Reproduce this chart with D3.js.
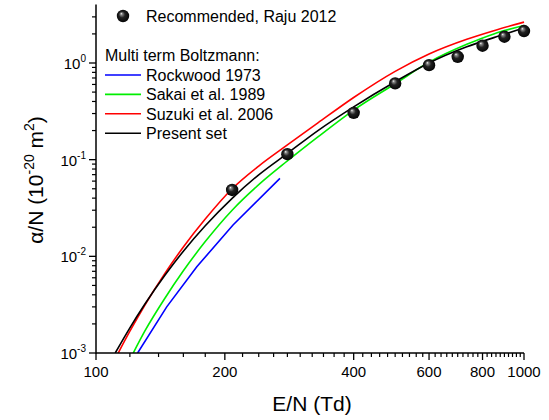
<!DOCTYPE html>
<html><head><meta charset="utf-8">
<script src="https://cdn.jsdelivr.net/npm/d3@7"></script>
<style>body{margin:0;background:#fff}svg{display:block;font-family:"Liberation Sans",Arial,sans-serif}</style>
</head><body><svg id="c" width="549" height="420"></svg>
<script>
// Data
const rajuE = [208, 280, 400, 500, 600, 700, 800, 900, 1000];
const rajuA = [0.0486, 0.114, 0.305, 0.615, 0.95, 1.16, 1.51, 1.87, 2.14];

const rockE = [125.1, 146.3, 172, 209, 269];
const rockA = [0.001, 0.003, 0.0078, 0.0211, 0.0641];

const sakaiE = [122.2, 130, 145, 160, 180, 208, 240, 280, 330, 400, 500, 600, 735, 850, 1000];
const sakaiA = [0.001, 0.00168, 0.00371, 0.00709, 0.0142, 0.030, 0.0551, 0.097, 0.172, 0.326, 0.61, 1.02, 1.56, 2.0, 2.44];

const suzukiE = [112.7, 120, 130, 145, 160, 180, 208, 240, 280, 330, 400, 500, 600, 735, 850, 1000];
const suzukiA = [0.001, 0.00168, 0.00312, 0.0067, 0.0125, 0.0243, 0.050, 0.0859, 0.142, 0.24, 0.44, 0.82, 1.24, 1.76, 2.16, 2.65];

const presentE = [110.9, 120, 130, 145, 160, 180, 208, 240, 280, 330, 400, 500, 600, 735, 850, 1000];
const presentA = [0.001, 0.00182, 0.00319, 0.0064, 0.0113, 0.0207, 0.0398, 0.0697, 0.116, 0.20, 0.352, 0.64, 1.0, 1.47, 1.83, 2.30];

const xTickLabels = [100, 200, 400, 600, 800, 1000];
const yTickExps = [-3, -2, -1, 0];

const seriesNames = ["Rockwood 1973", "Sakai et al. 1989", "Suzuki et al. 2006", "Present set"];
const seriesColors = ["#0000ff", "#00ee00", "#ff0000", "#000000"];

const svg = d3.select("#c");
const x = d3.scaleLog().domain([100, 1000]).range([96, 524]);
const y = d3.scaleLog().domain([0.001, Math.pow(10, 0.6)]).range([353, 5]);

const defs = svg.append("defs");
defs.append("clipPath").attr("id", "clip").append("rect")
  .attr("x", 96).attr("y", 0).attr("width", 460).attr("height", 353);
const g = defs.append("radialGradient").attr("id", "ball")
  .attr("cx", "50%").attr("cy", "50%").attr("r", "55%").attr("fx", "35%").attr("fy", "30%");
g.append("stop").attr("offset", "0%").attr("stop-color", "#ffffff");
g.append("stop").attr("offset", "15%").attr("stop-color", "#8a8a8a");
g.append("stop").attr("offset", "45%").attr("stop-color", "#222");
g.append("stop").attr("offset", "100%").attr("stop-color", "#000");

// Curves
const line = d3.line().x(d => x(d[0])).y(d => y(d[1])).curve(d3.curveMonotoneX);
const rockLine = d3.line().x(d => x(d[0])).y(d => y(d[1]));
const series = [
  [rockE, rockA, rockLine],
  [sakaiE, sakaiA, line],
  [suzukiE, suzukiA, line],
  [presentE, presentA, line]
];
const plot = svg.append("g").attr("clip-path", "url(#clip)");
series.forEach((s, i) => {
  const pts = s[0].map((e, j) => [e, s[1][j]]);
  plot.append("path").attr("d", s[2](pts)).attr("fill", "none")
    .attr("stroke", seriesColors[i]).attr("stroke-width", 1.6);
});

// Points
svg.append("g").selectAll("circle").data(rajuE.map((e, j) => [e, rajuA[j]])).join("circle")
  .attr("cx", d => x(d[0])).attr("cy", d => y(d[1])).attr("r", 6.2)
  .attr("fill", "url(#ball)");

// X axis
const xMinor = d3.range(120, 1000, 20).filter(v => !xTickLabels.includes(v));
const xa = svg.append("g").attr("transform", "translate(0,353)");
xa.append("line").attr("x1", 96).attr("x2", 524).attr("stroke", "#000").attr("stroke-width", 1.5);
xa.selectAll(".mn").data(xMinor).join("line").attr("x1", d => x(d)).attr("x2", d => x(d))
  .attr("y1", 0).attr("y2", 4).attr("stroke", "#000").attr("stroke-width", 1.2);
xa.selectAll(".mj").data(xTickLabels).join("line").attr("x1", d => x(d)).attr("x2", d => x(d))
  .attr("y1", 0).attr("y2", 7).attr("stroke", "#000").attr("stroke-width", 1.3);
xa.selectAll("text").data(xTickLabels).join("text").attr("x", d => x(d)).attr("y", 24)
  .attr("text-anchor", "middle").attr("font-size", 15).text(d => d);
svg.append("text").attr("x", 312).attr("y", 411).attr("text-anchor", "middle")
  .attr("font-size", 21).text("E/N (Td)");

// Y axis
const ya = svg.append("g");
ya.append("line").attr("x1", 96).attr("x2", 96).attr("y1", 4.5).attr("y2", 353.7)
  .attr("stroke", "#000").attr("stroke-width", 1.5);
const yMinor = [];
for (let e = -3; e <= 0; e++) for (let m = 2; m <= 9; m++) {
  const v = m * Math.pow(10, e);
  if (v <= Math.pow(10, 0.6)) yMinor.push(v);
}
ya.selectAll(".mn").data(yMinor).join("line").attr("x1", 92).attr("x2", 96)
  .attr("y1", d => y(d)).attr("y2", d => y(d)).attr("stroke", "#000").attr("stroke-width", 1.2);
ya.selectAll(".mj").data(yTickExps).join("line").attr("x1", 89).attr("x2", 96)
  .attr("y1", d => y(Math.pow(10, d))).attr("y2", d => y(Math.pow(10, d)))
  .attr("stroke", "#000").attr("stroke-width", 1.3);
yTickExps.forEach(e => {
  const t = ya.append("text").attr("x", 86).attr("y", y(Math.pow(10, e)) + 6)
    .attr("text-anchor", "end").attr("font-size", 15);
  t.append("tspan").text("10");
  t.append("tspan").attr("dy", -7).attr("font-size", 10).text(String(e));
});
const yt = svg.append("text").attr("transform", "translate(43,180) rotate(-90)")
  .attr("text-anchor", "middle").attr("font-size", 21);
yt.append("tspan").text("\u03b1/N (10");
yt.append("tspan").attr("dy", -9).attr("font-size", 14).text("-20");
yt.append("tspan").attr("dy", 9).text(" m");
yt.append("tspan").attr("dy", -9).attr("font-size", 14).text("2");
yt.append("tspan").attr("dy", 9).text(")");

// Legend
const lg = svg.append("g");
lg.append("circle").attr("cx", 123).attr("cy", 16).attr("r", 6.2).attr("fill", "url(#ball)");
lg.append("text").attr("x", 146).attr("y", 22).attr("font-size", 16).text("Recommended, Raju 2012");
lg.append("text").attr("x", 105).attr("y", 61).attr("font-size", 16).text("Multi term Boltzmann:");
seriesNames.forEach((n, i) => {
  const yy = 75 + i * 19.4;
  lg.append("line").attr("x1", 105).attr("x2", 141).attr("y1", yy).attr("y2", yy)
    .attr("stroke", seriesColors[i]).attr("stroke-width", 1.6);
  lg.append("text").attr("x", 146).attr("y", yy + 6).attr("font-size", 16).text(n);
});
</script></body></html>
